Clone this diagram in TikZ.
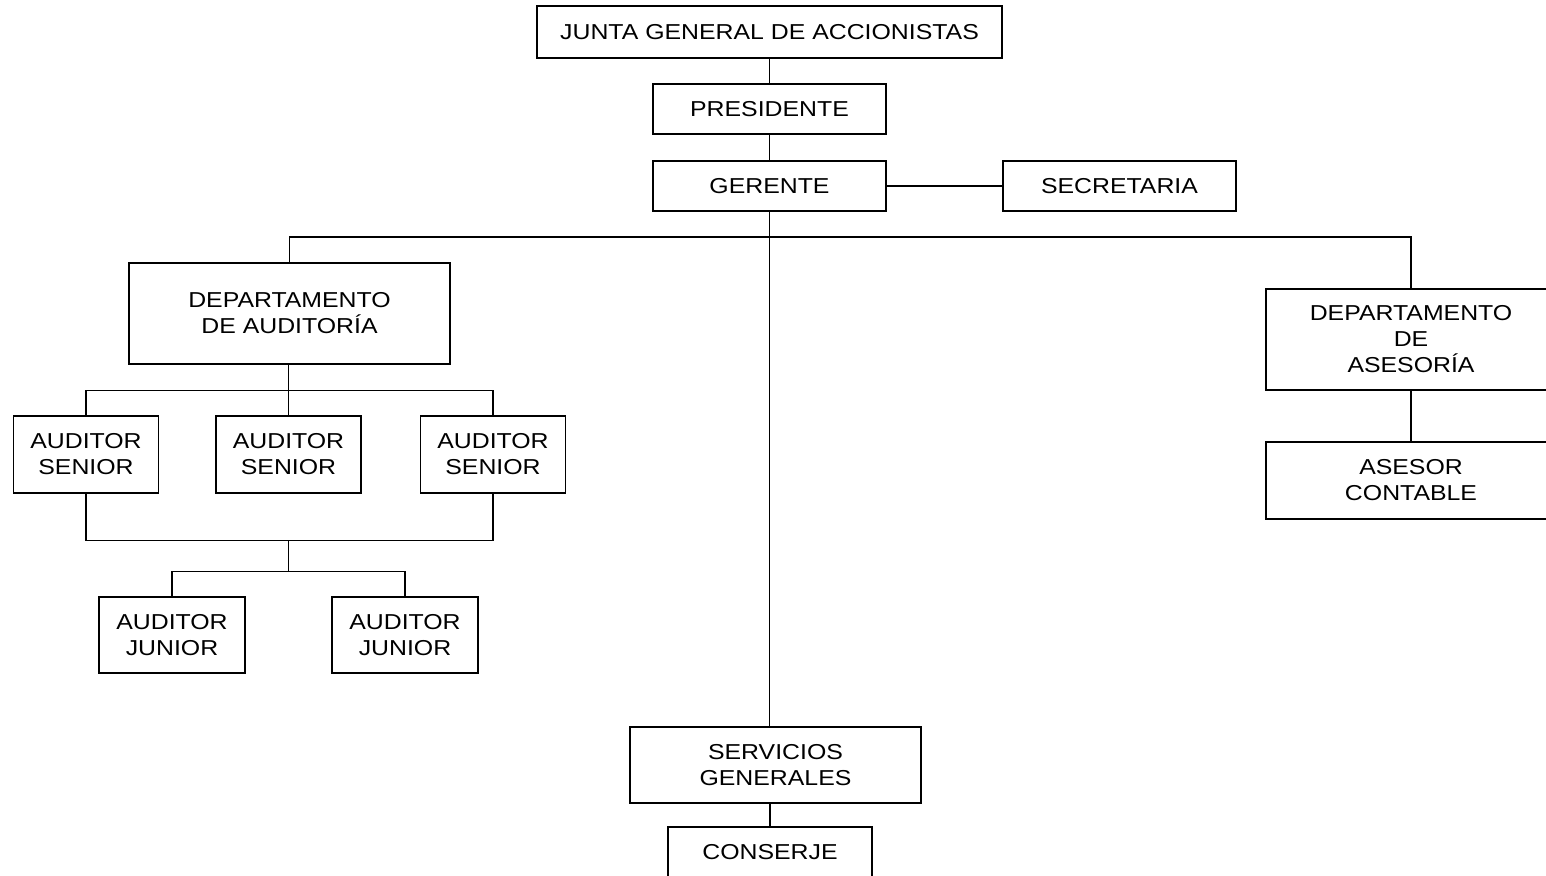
\documentclass[tikz,border=0pt]{standalone}
\usepackage{fontspec}
\setmainfont{Liberation Sans}[FakeStretch=1.15]
\begin{document}
\begin{tikzpicture}[x=0.5pt,y=-0.5pt,
  unit box/.style 2 args={draw, line width=0.6pt, align=center, inner sep=0pt,
    minimum width=#1*0.5pt, minimum height=#2*0.5pt,
    font=\fontsize{10.8}{13}\selectfont},
  link/.style={line width=0.6pt}]
\useasboundingbox (0,0) rectangle (1546,875);
\clip (0,0) rectangle (1546,875);

% top of the hierarchy
\node[unit box={465}{52}] (junta) at (769.5,32) {JUNTA GENERAL DE ACCIONISTAS};
\node[unit box={233}{50}] (pres) at (769.5,109) {PRESIDENTE};
\node[unit box={233}{50}] (ger) at (769.5,186) {GERENTE};
\node[unit box={233}{50}] (sec) at (1119.5,186) {SECRETARIA};

% departments
\node[unit box={321}{101}] (aud) at (289.5,313.5) {DEPARTAMENTO\\DE AUDITORÍA};
\node[unit box={290}{101}] (ase) at (1411,339.5) {DEPARTAMENTO\\DE\\ASESORÍA};
\node[unit box={290}{77}] (cont) at (1411,480.5) {ASESOR\\CONTABLE};

% audit staff
\node[unit box={145}{77}] (s1) at (86,454.5) {AUDITOR\\SENIOR};
\node[unit box={145}{77}] (s2) at (288.5,454.5) {AUDITOR\\SENIOR};
\node[unit box={145}{77}] (s3) at (493,454.5) {AUDITOR\\SENIOR};
\node[unit box={146}{76}] (j1) at (172,635) {AUDITOR\\JUNIOR};
\node[unit box={146}{76}] (j2) at (405,635) {AUDITOR\\JUNIOR};

% general services
\node[unit box={291}{76}] (serv) at (775.5,765) {SERVICIOS\\GENERALES};
\node[unit box={204}{50}] (cons) at (770,852) {CONSERJE};

% connectors
\coordinate (busR) at (1411,237);
\draw[link] (junta) -- (pres);
\draw[link] (pres) -- (ger);
\draw[link] (ger) -- (sec);
\draw[link] (ger.south) -- (ger.south |- serv.north);
\draw[link] (aud.north) |- (busR) -- (ase.north);
\draw[link] (ase) -- (cont);
\draw[link] (serv.south -| cons.north) -- (cons.north);

\draw[link] (s2.north |- aud.south) -- ++(0,26) coordinate (audbus);
\draw[link] (s1.north) |- (audbus) -| (s3.north);
\draw[link] (s2.north) -- (s2.north |- audbus);

\draw[link] (s1.south) -- ++(0,46.5) coordinate (lowL) -| (s3.south);
\draw[link] (s2.south |- lowL) -- ++(0,31) coordinate (jbus);
\draw[link] (j1.north) |- (jbus) -| (j2.north);
\end{tikzpicture}
\end{document}
